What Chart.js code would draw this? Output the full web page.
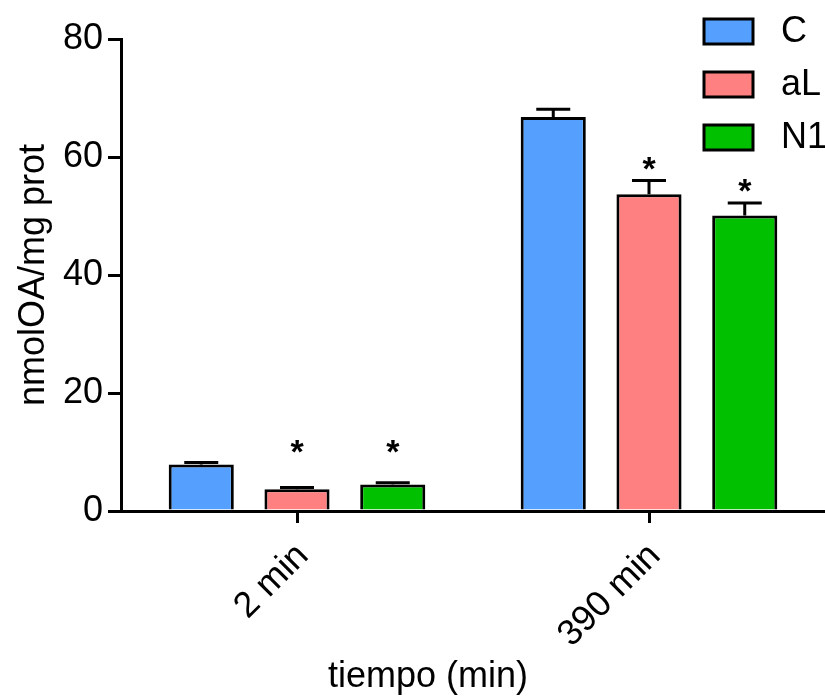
<!DOCTYPE html>
<html>
<head>
<meta charset="utf-8">
<script src="https://cdn.jsdelivr.net/npm/chart.js@4"></script>
<style>
  html, body { margin: 0; padding: 0; background: #ffffff; }
  #wrap { width: 825px; height: 700px; position: relative; }
</style>
</head>
<body>
<div id="wrap"><canvas id="chart"></canvas></div>
<script>
const categories = ['2 min', '390 min'];
const seriesNames = ['C', 'aL', 'N1'];
const meanC  = [7.9, 66.8];
const meanAL = [3.7, 53.7];
const meanN1 = [4.5, 50.1];
const semC  = [0.3, 1.3];
const semAL = [0.3, 2.3];
const semN1 = [0.3, 2.1];
const sigC  = [false, false];
const sigAL = [true, true];
const sigN1 = [true, true];
const yTicks = [0, 20, 40, 60, 80];

const colors = ['#559fff', '#ff8080', '#00c000'];
const FONT = '"Liberation Sans", Arial, sans-serif';

const means = [meanC, meanAL, meanN1];
const sems = [semC, semAL, semN1];
const sigs = [sigC, sigAL, sigN1];

// error bars (mean + SEM, upper only) and significance stars
const errorBars = {
    id: 'errorBars',
    afterDatasetsDraw(chart) {
        const ctx = chart.ctx;
        const y = chart.scales.y;
        ctx.save();
        chart.data.datasets.forEach((ds, i) => {
            const meta = chart.getDatasetMeta(i);
            meta.data.forEach((bar, j) => {
                const top = ds.data[j] + sems[i][j];
                const yTop = y.getPixelForValue(top);
                const yBar = y.getPixelForValue(ds.data[j]);
                ctx.strokeStyle = '#000';
                ctx.lineWidth = 3;
                ctx.beginPath();
                ctx.moveTo(bar.x, yBar);
                ctx.lineTo(bar.x, yTop);
                ctx.moveTo(bar.x - 17, yTop);
                ctx.lineTo(bar.x + 17, yTop);
                ctx.stroke();
                if (sigs[i][j]) {
                    const ys = y.getPixelForValue(Math.max(top, 8)) - 18;
                    ctx.fillStyle = '#000';
                    ctx.font = 'bold 34px ' + FONT;
                    ctx.textAlign = 'center';
                    ctx.textBaseline = 'middle';
                    ctx.fillText('*', bar.x, ys + 8);
                }
            });
        });
        ctx.restore();
    }
};

// legend in the top right corner and x axis title
const extras = {
    id: 'extras',
    afterDraw(chart) {
        const ctx = chart.ctx;
        ctx.save();
        chart.data.datasets.forEach((ds, i) => {
            const y0 = 19 + i * 53;
            ctx.fillStyle = ds.backgroundColor;
            ctx.fillRect(704, y0, 49, 25);
            ctx.strokeStyle = '#000';
            ctx.lineWidth = 3;
            ctx.strokeRect(704, y0, 49, 25);
            ctx.fillStyle = '#000';
            ctx.font = '36px ' + FONT;
            ctx.textAlign = 'left';
            ctx.textBaseline = 'middle';
            ctx.fillText(ds.label, 781, y0 + 13);
        });
        ctx.font = '36px ' + FONT;
        ctx.textAlign = 'center';
        ctx.textBaseline = 'alphabetic';
        ctx.fillText('tiempo (min)', 428, 687);
        ctx.restore();
    }
};

new Chart(document.getElementById('chart'), {
    type: 'bar',
    data: {
        labels: categories,
        datasets: seriesNames.map((name, i) => ({
            label: name,
            data: means[i],
            backgroundColor: colors[i],
            borderColor: '#000',
            borderWidth: 3,
            borderSkipped: 'bottom',
            categoryPercentage: 0.816,
            barPercentage: 0.68
        }))
    },
    options: {
        responsive: true,
        maintainAspectRatio: false,
        animation: false,
        layout: { padding: { top: 39, left: 0, right: 0, bottom: 0 } },
        plugins: { legend: { display: false }, tooltip: { enabled: false } },
        scales: {
            x: {
                grid: { offset: false, drawOnChartArea: false, color: '#000', lineWidth: 3, tickLength: 12 },
                border: { color: '#000', width: 3, z: 1 },
                ticks: { color: '#000', font: { family: FONT, size: 36 }, minRotation: 45, maxRotation: 45, padding: 12, labelOffset: 6 },
                afterFit(scale) { scale.height = 189; }
            },
            y: {
                min: 0,
                max: 80,
                afterBuildTicks(scale) { scale.ticks = yTicks.map(v => ({ value: v })); },
                grid: { drawOnChartArea: false, color: '#000', lineWidth: 3, tickLength: 13 },
                border: { color: '#000', width: 3 },
                ticks: { color: '#000', font: { family: FONT, size: 36 }, padding: 5 },
                title: { display: true, text: 'nmolOA/mg prot', color: '#000', font: { family: FONT, size: 36 }, padding: { top: 12, bottom: 0 } },
                afterFit(scale) { scale.width = 121; }
            }
        }
    },
    plugins: [errorBars, extras]
});
</script>
</body>
</html>
